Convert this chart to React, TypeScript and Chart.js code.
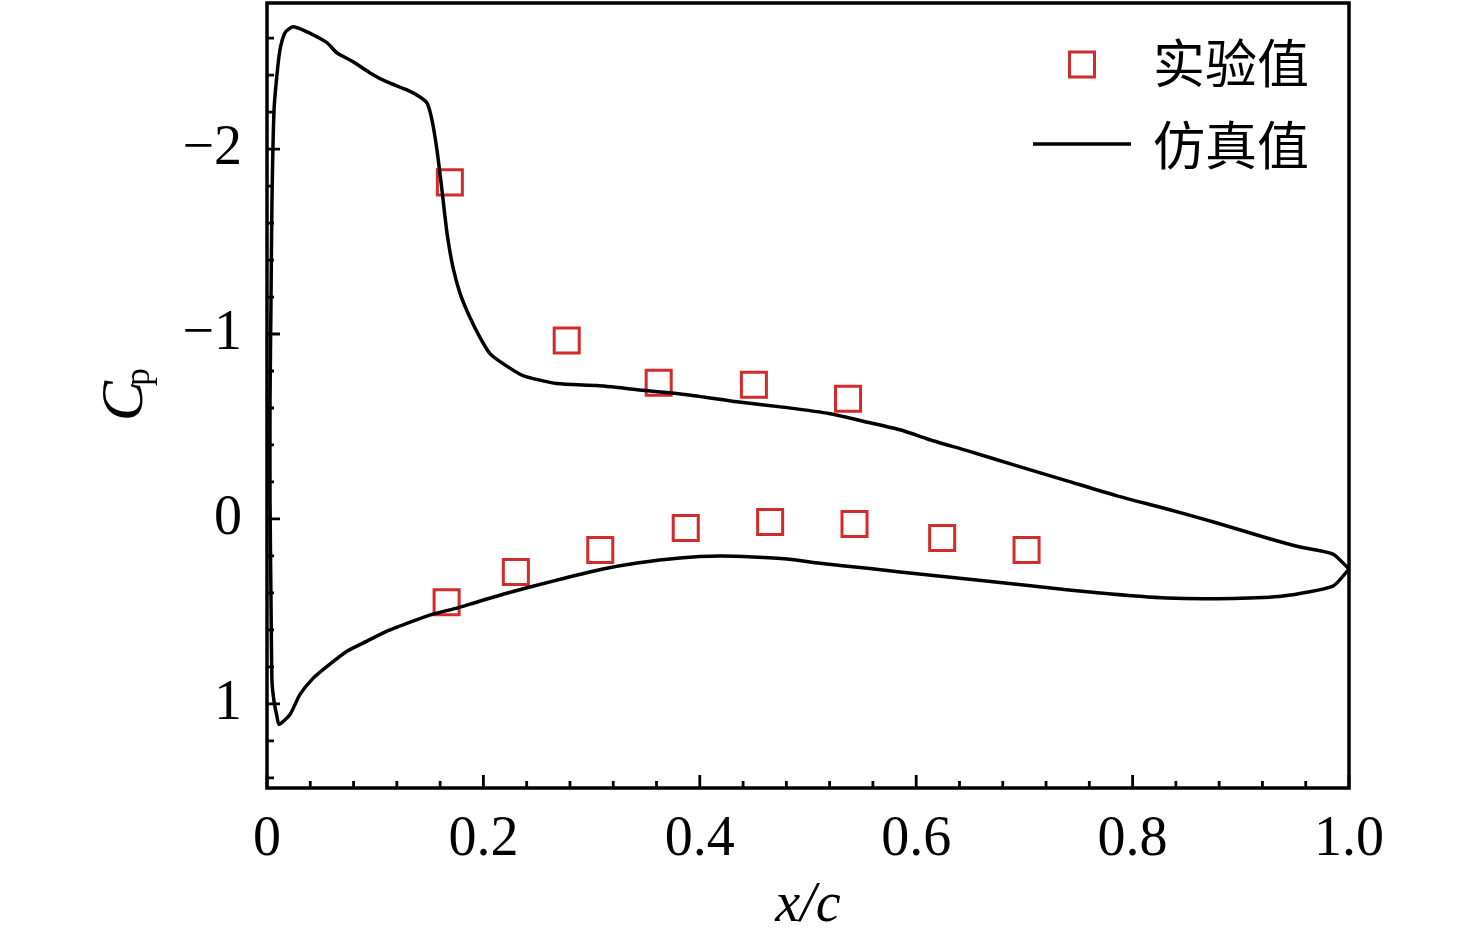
import React, { useEffect, useRef } from 'react';
import { Chart, registerables } from 'chart.js';

Chart.register(...registerables);

// ---- Data ----
// Simulation, suction side: from stagnation point up the leading edge to the trailing edge
const simUpperX = [
  0.0111, 0.0092, 0.0065, 0.0046, 0.0037, 0.0028, 0.0028, 0.0037, 0.0046, 0.0065,
  0.0092, 0.012, 0.0166, 0.024, 0.037, 0.0462, 0.0555, 0.0647, 0.0795, 0.0952,
  0.1109, 0.1294, 0.1414, 0.1479, 0.1525, 0.1571, 0.1617, 0.1664, 0.1719, 0.1784,
  0.1876, 0.1969, 0.2061, 0.2181, 0.2366, 0.268, 0.305, 0.342, 0.3882, 0.4344,
  0.4806, 0.5203, 0.5573, 0.585, 0.6155, 0.647, 0.6932, 0.7394, 0.7856, 0.8318,
  0.878, 0.9242, 0.9547, 0.9852, 1.0,
];
const simUpperCp = [
  1.111, 1.068, 0.986, 0.878, 0.444, -0.098, -0.64, -1.182, -1.724, -2.211,
  -2.401, -2.537, -2.629, -2.661, -2.634, -2.607, -2.575, -2.52, -2.472, -2.412,
  -2.363, -2.32, -2.282, -2.249, -2.157, -1.995, -1.778, -1.545, -1.36, -1.22,
  -1.089, -0.981, -0.894, -0.84, -0.775, -0.732, -0.721, -0.699, -0.672, -0.634,
  -0.602, -0.569, -0.52, -0.482, -0.423, -0.369, -0.287, -0.206, -0.125, -0.054,
  0.022, 0.103, 0.152, 0.19, 0.271,
];
// Simulation, pressure side: from stagnation point to the trailing edge
const simLowerX = [
  0.0111, 0.0213, 0.0305, 0.0425, 0.0555, 0.0739, 0.0924, 0.1109, 0.1349, 0.1534,
  0.1756, 0.1876, 0.2181, 0.2643, 0.3105, 0.342, 0.3817, 0.4187, 0.4492, 0.4806,
  0.5111, 0.5573, 0.585, 0.647, 0.7079, 0.7699, 0.8318, 0.8928, 0.939, 0.9852, 1.0,
];
const simLowerCp = [
  1.111, 1.057, 0.949, 0.862, 0.797, 0.715, 0.661, 0.607, 0.553, 0.515,
  0.482, 0.461, 0.407, 0.336, 0.271, 0.238, 0.211, 0.201, 0.206, 0.217,
  0.24, 0.268, 0.287, 0.325, 0.363, 0.401, 0.428, 0.43, 0.417, 0.363, 0.271,
];

// Experiment
const expUpperX = [0.169, 0.277, 0.362, 0.45, 0.537];
const expUpperCp = [-1.82, -0.965, -0.737, -0.726, -0.65];
const expLowerX = [0.166, 0.23, 0.308, 0.387, 0.465, 0.543, 0.624, 0.702];
const expLowerCp = [0.45, 0.287, 0.168, 0.049, 0.016, 0.027, 0.103, 0.168];

// Axes
const X_MIN = 0;
const X_MAX = 1;
const Y_MIN = -2.79;
const Y_MAX = 1.455;
const xTicks = [0, 0.2, 0.4, 0.6, 0.8, 1.0];
const xTickLabels = ['0', '0.2', '0.4', '0.6', '0.8', '1.0'];
const xMinorTicks = [
  0.04, 0.08, 0.12, 0.16, 0.24, 0.28, 0.32, 0.36, 0.44, 0.48,
  0.52, 0.56, 0.64, 0.68, 0.72, 0.76, 0.84, 0.88, 0.92, 0.96,
];
const yTicks = [-2, -1, 0, 1];
const yTickLabels = ['\u22122', '\u22121', '0', '1'];
const yMinorTicks = [
  -2.6, -2.4, -2.2, -1.8, -1.6, -1.4, -1.2, -0.8, -0.6, -0.4, -0.2,
  0.2, 0.4, 0.6, 0.8, 1.2, 1.4,
];

const xTitle = 'x/c';
const yTitleMain = 'C';
const yTitleSub = 'p';
const legendExp = '实验值';
const legendSim = '仿真值';

const RED = '#d22b2b';
const SERIF = '"Liberation Serif", "Times New Roman", serif';
const CJK = '"Noto Sans CJK SC", "Noto Sans CJK TC", sans-serif';

const framePlugin = {
  id: 'frame',
  afterDraw(chart: any) {
    const { ctx, chartArea: a, scales } = chart;
    const xs = scales.x;
    const ys = scales.y;
    ctx.save();

    // Frame box
    ctx.strokeStyle = '#000';
    ctx.lineWidth = 3.5;
    ctx.strokeRect(a.left, a.top, a.right - a.left, a.bottom - a.top);

    // Inward ticks
    ctx.lineWidth = 2.8;
    ctx.beginPath();
    xTicks.forEach((v) => {
      const p = xs.getPixelForValue(v);
      ctx.moveTo(p, a.bottom);
      ctx.lineTo(p, a.bottom - 13);
    });
    xMinorTicks.forEach((v) => {
      const p = xs.getPixelForValue(v);
      ctx.moveTo(p, a.bottom);
      ctx.lineTo(p, a.bottom - 7);
    });
    yTicks.forEach((v) => {
      const p = ys.getPixelForValue(v);
      ctx.moveTo(a.left, p);
      ctx.lineTo(a.left + 13, p);
    });
    yMinorTicks.forEach((v) => {
      const p = ys.getPixelForValue(v);
      ctx.moveTo(a.left, p);
      ctx.lineTo(a.left + 7, p);
    });
    ctx.stroke();

    // X title
    ctx.fillStyle = '#000';
    ctx.font = `italic 56px ${SERIF}`;
    ctx.textAlign = 'center';
    ctx.textBaseline = 'alphabetic';
    ctx.fillText(xTitle, (a.left + a.right) / 2, 921);

    // Y title: C with subscript p, rotated
    ctx.save();
    ctx.translate(142, 421);
    ctx.rotate(-Math.PI / 2);
    ctx.textAlign = 'left';
    ctx.font = `italic 60px ${SERIF}`;
    ctx.fillText(yTitleMain, 0, 0);
    const cw = ctx.measureText(yTitleMain).width;
    ctx.font = `36px ${SERIF}`;
    ctx.fillText(yTitleSub, cw - 5, 7);
    ctx.restore();

    // Legend
    ctx.strokeStyle = RED;
    ctx.lineWidth = 3;
    ctx.strokeRect(1082 - 12.5, 64.5 - 12.5, 25, 25);
    ctx.strokeStyle = '#000';
    ctx.lineWidth = 3.5;
    ctx.beginPath();
    ctx.moveTo(1033, 144);
    ctx.lineTo(1131, 144);
    ctx.stroke();
    ctx.fillStyle = '#000';
    ctx.font = `52px ${CJK}`;
    ctx.textAlign = 'left';
    ctx.textBaseline = 'middle';
    ctx.fillText(legendExp, 1153, 63);
    ctx.fillText(legendSim, 1153, 145);

    ctx.restore();
  },
};

export default function App() {
  const ref = useRef<HTMLCanvasElement | null>(null);

  useEffect(() => {
    if (!ref.current) return;
    const simPath = [
      ...simUpperX.map((x, i) => ({ x, y: simUpperCp[i] })).reverse(),
      ...simLowerX.slice(1).map((x, i) => ({ x, y: simLowerCp[i + 1] })),
    ];
    const expPoints = [
      ...expUpperX.map((x, i) => ({ x, y: expUpperCp[i] })),
      ...expLowerX.map((x, i) => ({ x, y: expLowerCp[i] })),
    ];

    const chart = new Chart(ref.current, {
      type: 'scatter',
      data: {
        datasets: [
          {
            label: legendSim,
            data: simPath,
            showLine: true,
            borderColor: '#000',
            borderWidth: 3.5,
            pointRadius: 0,
            tension: 0.2,
            fill: false,
          } as any,
          {
            label: legendExp,
            data: expPoints,
            showLine: false,
            pointStyle: 'rect',
            pointRadius: 17.7,
            pointBorderWidth: 3,
            borderColor: RED,
            backgroundColor: 'rgba(0,0,0,0)',
          } as any,
        ],
      },
      options: {
        animation: false,
        responsive: false,
        events: [],
        layout: { autoPadding: false, padding: { top: 3, right: 127, left: 0, bottom: 0 } },
        plugins: {
          legend: { display: false },
          tooltip: { enabled: false },
        },
        scales: {
          x: {
            type: 'linear',
            min: X_MIN,
            max: X_MAX,
            grid: { display: false },
            border: { display: false },
            afterBuildTicks: (s: any) => {
              s.ticks = xTicks.map((v) => ({ value: v }));
            },
            afterFit: (s: any) => {
              s.height = 155;
              s.paddingLeft = 0;
              s.paddingRight = 0;
              s.paddingTop = 0;
              s.paddingBottom = 0;
            },
            ticks: {
              color: '#000',
              padding: 11,
              autoSkip: false,
              maxRotation: 0,
              font: { family: SERIF, size: 56 },
              callback: (_v: any, i: number) => xTickLabels[i],
            },
          },
          y: {
            type: 'linear',
            reverse: true,
            min: Y_MIN,
            max: Y_MAX,
            grid: { display: false },
            border: { display: false },
            afterBuildTicks: (s: any) => {
              s.ticks = yTicks.map((v) => ({ value: v }));
            },
            afterFit: (s: any) => {
              s.width = 267;
              s.paddingLeft = 0;
              s.paddingRight = 0;
              s.paddingTop = 0;
              s.paddingBottom = 0;
            },
            ticks: {
              color: '#000',
              padding: 17,
              autoSkip: false,
              font: { family: SERIF, size: 56 },
              callback: (_v: any, i: number) => yTickLabels[i],
            },
          },
        },
      } as any,
      plugins: [framePlugin],
    });

    return () => chart.destroy();
  }, []);

  return (
    <div style={{ position: 'fixed', left: 0, top: 0, width: 1476, height: 943, background: '#fff' }}>
      <canvas ref={ref} width={1476} height={943} style={{ display: 'block' }} />
    </div>
  );
}
